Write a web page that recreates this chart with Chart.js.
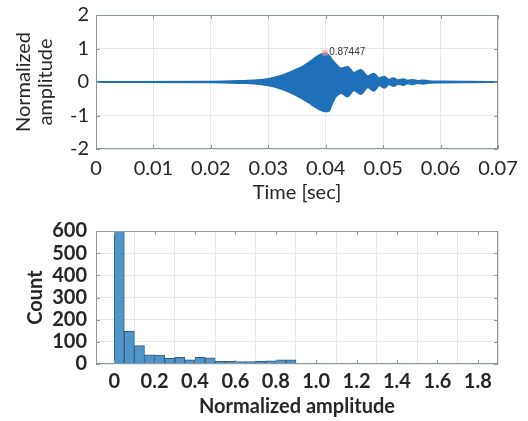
<!DOCTYPE html>
<html>
<head>
<meta charset="utf-8">
<script src="https://cdn.jsdelivr.net/npm/chart.js@4.4.0/dist/chart.umd.min.js"></script>
<style>
  body { margin: 0; background: #fff; }
  .wrap { position: absolute; left: 0; width: 528px; }
  #top { top: 0; height: 210px; }
  #bottom { top: 210px; height: 211px; }
</style>
</head>
<body>
<div class="wrap" id="top"><canvas id="signalChart" width="528" height="210"></canvas></div>
<div class="wrap" id="bottom"><canvas id="histChart" width="528" height="211"></canvas></div>
<script>
// upper plot: envelope of the burst
const timeSec  = [0, 0.020, 0.025, 0.028, 0.030, 0.032, 0.034, 0.035, 0.036, 0.037, 0.038, 0.039, 0.0399, 0.0405, 0.0411, 0.0418, 0.0427, 0.0438, 0.0449, 0.0461, 0.0473, 0.0484, 0.0493, 0.0502, 0.0510, 0.0518, 0.0526, 0.0535, 0.0543, 0.0552, 0.0560, 0.0569, 0.0580, 0.0600, 0.0650, 0.0700];
const upperEnv = [0, 0.01, 0.03, 0.05, 0.09, 0.17, 0.30, 0.38, 0.46, 0.57, 0.70, 0.81, 0.86, 0.80, 0.66, 0.52, 0.40, 0.45, 0.27, 0.36, 0.17, 0.25, 0.11, 0.16, 0.07, 0.11, 0.05, 0.08, 0.04, 0.06, 0.03, 0.045, 0.025, 0.015, 0.005, 0];
const lowerEnv = [0, -0.01, -0.03, -0.05, -0.10, -0.19, -0.32, -0.41, -0.50, -0.60, -0.72, -0.82, -0.87, -0.87, -0.64, -0.42, -0.33, -0.43, -0.24, -0.36, -0.16, -0.26, -0.10, -0.17, -0.07, -0.12, -0.05, -0.09, -0.04, -0.07, -0.03, -0.05, -0.025, -0.015, -0.005, 0];
const peakTime = 0.0399;
const peakValue = 0.87447;
const timeTicks = [0, 0.01, 0.02, 0.03, 0.04, 0.05, 0.06, 0.07];
const ampTicks = [-2, -1, 0, 1, 2];

// lower plot: histogram
const binCenters = [0.025, 0.075, 0.125, 0.175, 0.225, 0.275, 0.325, 0.375, 0.425, 0.475, 0.525, 0.575, 0.625, 0.675, 0.725, 0.775, 0.825, 0.875];
const binCounts  = [600, 147, 83, 41, 40, 26, 30, 19, 30, 28, 12, 12, 11, 11, 12, 14, 19, 19];
const histXTicks = [0, 0.2, 0.4, 0.6, 0.8, 1.0, 1.2, 1.4, 1.6, 1.8];
const countTicks = [0, 100, 200, 300, 400, 500, 600];

const BLUE = '#1f70b8';
const GRID = '#e2e8ee';
const TEXT = '#262626';

Chart.defaults.font.family = 'Lato';
Chart.defaults.color = TEXT;

// box round the plot with small inward ticks, like the original
const frame = {
    id: 'frame',
    afterDatasetsDraw(chart) {
        const {ctx, chartArea: a, scales} = chart;
        ctx.save();
        ctx.strokeStyle = '#8c96a0';
        ctx.lineWidth = 1;
        ctx.strokeRect(a.left + 0.5, a.top + 0.5, a.width - 1, a.height - 1);
        ctx.beginPath();
        scales.x.ticks.forEach(t => {
            const p = Math.round(scales.x.getPixelForValue(t.value)) + 0.5;
            ctx.moveTo(p, a.bottom); ctx.lineTo(p, a.bottom - 4);
            ctx.moveTo(p, a.top); ctx.lineTo(p, a.top + 4);
        });
        scales.y.ticks.forEach(t => {
            const p = Math.round(scales.y.getPixelForValue(t.value)) + 0.5;
            ctx.moveTo(a.left, p); ctx.lineTo(a.left + 4, p);
            ctx.moveTo(a.right, p); ctx.lineTo(a.right - 4, p);
        });
        ctx.stroke();
        ctx.restore();
    }
};

const peakLabel = {
    id: 'peakLabel',
    afterDatasetsDraw(chart) {
        const {ctx, scales} = chart;
        const px = scales.x.getPixelForValue(peakTime);
        const py = scales.y.getPixelForValue(peakValue);
        ctx.save();
        ctx.fillStyle = 'rgba(240,150,150,0.6)';
        ctx.fillRect(px - 3, py - 3, 6, 6);
        ctx.fillStyle = '#333';
        ctx.font = '10px "Liberation Sans"';
        ctx.textBaseline = 'middle';
        ctx.fillText(peakValue.toString(), px + 4, py);
        ctx.restore();
    }
};

function fixedTicks(list) {
    return scale => { scale.ticks = list.map(v => ({value: v})); };
}

new Chart(document.getElementById('signalChart'), {
    type: 'line',
    data: {
        datasets: [{
            data: timeSec.map((t, i) => ({x: t, y: upperEnv[i]})),
            borderColor: BLUE,
            backgroundColor: BLUE,
            borderWidth: 2,
            pointRadius: 0,
            cubicInterpolationMode: 'monotone',
            fill: '+1'
        }, {
            data: timeSec.map((t, i) => ({x: t, y: lowerEnv[i]})),
            borderColor: BLUE,
            borderWidth: 2,
            pointRadius: 0,
            cubicInterpolationMode: 'monotone',
            fill: false
        }]
    },
    options: {
        responsive: false,
        animation: false,
        devicePixelRatio: 1,
        layout: {padding: {left: 0, right: 30, top: 15, bottom: 0}},
        plugins: {legend: {display: false}, tooltip: {enabled: false}},
        scales: {
            x: {
                type: 'linear',
                min: 0,
                max: 0.07,
                afterBuildTicks: fixedTicks(timeTicks),
                afterFit: s => { s.height = 61; s.paddingLeft = 0; s.paddingRight = 0; },
                grid: {color: GRID, drawTicks: false},
                border: {display: false},
                ticks: {
                    padding: 8,
                    font: {size: 20},
                    maxRotation: 0,
                    autoSkip: false,
                    callback: v => v === 0 ? '0' : v.toFixed(2)
                },
                title: {display: true, text: 'Time [sec]', font: {size: 20}, padding: {top: 0, bottom: 5}}
            },
            y: {
                min: -2,
                max: 2,
                afterBuildTicks: fixedTicks(ampTicks),
                afterFit: s => { s.width = 96; s.paddingTop = 0; s.paddingBottom = 0; },
                grid: {color: GRID, drawTicks: false},
                border: {display: false},
                ticks: {padding: 7, font: {size: 20}, autoSkip: false},
                title: {display: true, text: ['Normalized', 'amplitude'], font: {size: 20, lineHeight: 1.1}, padding: {top: 13, bottom: 0}}
            }
        }
    },
    plugins: [frame, peakLabel]
});

new Chart(document.getElementById('histChart'), {
    type: 'bar',
    data: {
        datasets: [{
            data: binCenters.map((c, i) => ({x: c, y: binCounts[i]})),
            backgroundColor: 'rgb(80,148,200)',
            borderColor: '#2c5d85',
            borderWidth: 1,
            barPercentage: 1,
            categoryPercentage: 1
        }]
    },
    options: {
        responsive: false,
        animation: false,
        devicePixelRatio: 1,
        layout: {padding: {left: 0, right: 30, top: 21, bottom: 0}},
        plugins: {legend: {display: false}, tooltip: {enabled: false}},
        scales: {
            x: {
                type: 'linear',
                min: -0.09,
                max: 1.9,
                offset: false,
                afterBuildTicks: fixedTicks(histXTicks),
                afterFit: s => { s.height = 57; s.paddingLeft = 0; s.paddingRight = 0; },
                grid: {color: GRID, drawTicks: false},
                border: {display: false},
                ticks: {
                    padding: 6,
                    font: {size: 20, weight: 'bold'},
                    maxRotation: 0,
                    autoSkip: false,
                    callback: v => v === 0 ? '0' : v.toFixed(1)
                },
                title: {display: true, text: 'Normalized amplitude', font: {size: 20, weight: 'bold'}, padding: {top: 0, bottom: 2}}
            },
            y: {
                min: 0,
                max: 600,
                afterBuildTicks: fixedTicks(countTicks),
                afterFit: s => { s.width = 96; s.paddingTop = 0; s.paddingBottom = 0; },
                grid: {color: GRID, drawTicks: false},
                border: {display: false},
                ticks: {padding: 9, font: {size: 20, weight: 'bold'}, autoSkip: false},
                title: {display: true, text: 'Count', font: {size: 20, weight: 'bold'}, padding: {top: 24, bottom: 0}}
            }
        }
    },
    plugins: [frame]
});
</script>
</body>
</html>
